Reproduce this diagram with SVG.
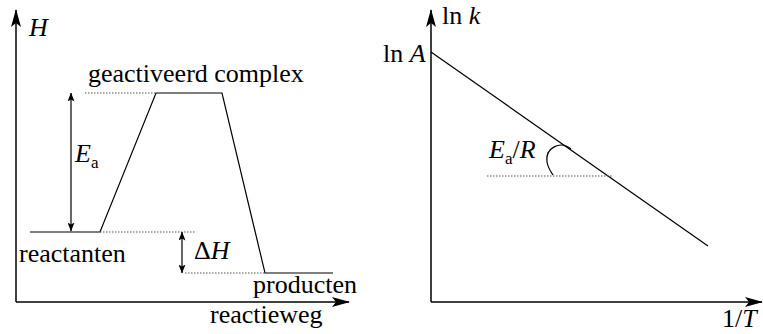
<svg xmlns="http://www.w3.org/2000/svg" width="763" height="334" viewBox="0 0 763 334" font-family="'Liberation Serif', 'DejaVu Serif', 'Times New Roman', serif">
<style>
.ln{stroke:#000;stroke-width:1.5;fill:none}
.thin{stroke:#000;stroke-width:1.2;fill:none}
.dot{stroke:#555;stroke-width:1;stroke-dasharray:1.5 1.5;fill:none}
text{font-family:'Liberation Serif','DejaVu Serif','Times New Roman',serif;font-size:26px;fill:#000}
.it{font-style:italic}
.sub{font-size:17px}
</style>
<defs>
<marker id="ah" viewBox="0 0 18 10" refX="17" refY="5" markerWidth="18" markerHeight="10" markerUnits="userSpaceOnUse" orient="auto">
<path d="M0,0 L18,5 L0,10 L4,5 Z" fill="#000"/>
</marker>
<marker id="sh" viewBox="0 0 9 7" refX="8.5" refY="3.5" markerWidth="9" markerHeight="7" markerUnits="userSpaceOnUse" orient="auto">
<path d="M0,0 L9,3.5 L0,7 L2,3.5 Z" fill="#000"/>
</marker>
</defs>
<g id="left-axes">
<line class="ln" x1="16" y1="302" x2="16" y2="10" marker-end="url(#ah)"/>
<line class="ln" x1="16" y1="302" x2="349" y2="302" marker-end="url(#ah)"/>
<text class="it" x="29" y="36">H</text>
<text x="210" y="323">reactieweg</text>
</g>
<g id="energy-profile">
<polyline class="thin" points="30,232 100,232 156,93 222,93 265,273 333,273"/>
<line class="dot" x1="85" y1="93" x2="156" y2="93"/>
<line class="dot" x1="100" y1="232" x2="196" y2="232"/>
<line class="dot" x1="185" y1="273" x2="265" y2="273"/>
<text x="88" y="82">geactiveerd complex</text>
<text x="19" y="262">reactanten</text>
<text x="253" y="293">producten</text>
</g>
<g id="connectors">
<line class="thin" x1="71" y1="162" x2="71" y2="93" marker-end="url(#sh)"/>
<line class="thin" x1="71" y1="162" x2="71" y2="231" marker-end="url(#sh)"/>
<line class="thin" x1="182" y1="252" x2="182" y2="232" marker-end="url(#sh)"/>
<line class="thin" x1="182" y1="252" x2="182" y2="273" marker-end="url(#sh)"/>
</g>
<g id="Ea-label">
<text x="75" y="162"><tspan class="it">E</tspan><tspan class="sub" dy="6">a</tspan></text>
</g>
<g id="dH-label">
<text x="194" y="259">Δ<tspan class="it">H</tspan></text>
</g>
<g id="right-axes">
<line class="ln" x1="431" y1="302" x2="431" y2="10" marker-end="url(#ah)"/>
<line class="ln" x1="431" y1="302" x2="762" y2="302" marker-end="url(#ah)"/>
<text x="442" y="24">ln <tspan class="it">k</tspan></text>
<text x="383" y="62">ln <tspan class="it">A</tspan></text>
<text x="722" y="327">1/<tspan class="it">T</tspan></text>
</g>
<g id="arrhenius-line">
<line class="thin" x1="431" y1="52" x2="708" y2="246"/>
<line class="dot" x1="487" y1="176" x2="613" y2="176"/>
<path class="thin" d="M571,149 C560,140 545,148 547,162 C548,168 551,172 553,175"/>
<text x="489" y="158"><tspan class="it">E</tspan><tspan class="sub" dy="6">a</tspan><tspan dy="-6">/</tspan><tspan class="it">R</tspan></text>
</g>
</svg>
